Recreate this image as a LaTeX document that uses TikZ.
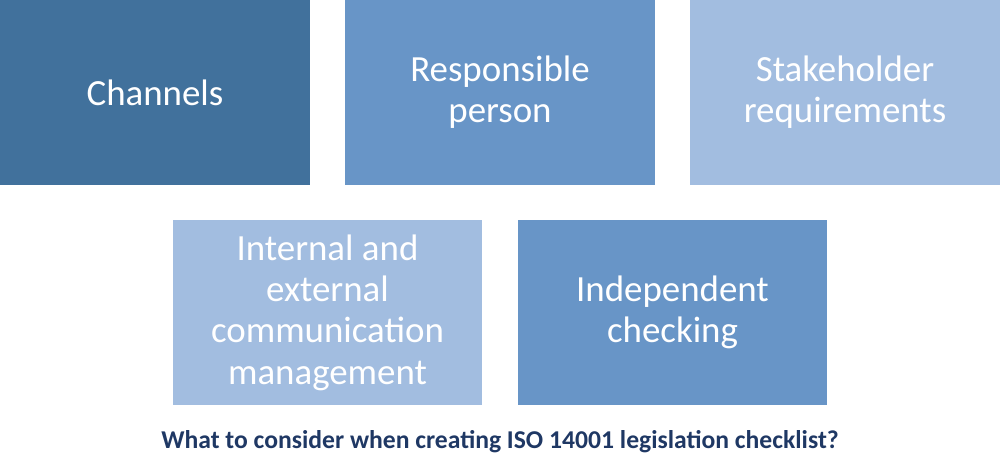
\documentclass[tikz,border=0pt]{standalone}
\usepackage{fontspec}
\setmainfont{Carlito}
\definecolor{boxdark}{RGB}{65,113,156}
\definecolor{boxmid}{RGB}{104,149,199}
\definecolor{boxlight}{RGB}{162,189,224}
\definecolor{capblue}{RGB}{31,56,100}
\begin{document}
\begin{tikzpicture}[x=0.02cm,y=-0.02cm,
	card/.style={rectangle,minimum width=6.2cm,minimum height=3.7cm,inner sep=0pt,align=center,text=white,font=\fontsize{21}{23.5}\selectfont}]
		\useasboundingbox(0,0)rectangle(1000,461);
		\node[card,fill=boxdark](channels)at(155,92.5){Channels};
		\node[card,fill=boxmid](person)at(500,92.5){Responsible\\person};
		\node[card,fill=boxlight](stake)at(845,92.5){Stakeholder\\requirements};
		\node[card,fill=boxlight](comm)at(327.5,312.5){Internal and\\external\\communication\\management};
		\node[card,fill=boxmid](check)at(672.5,312.5){Independent\\checking};
		\node[text=capblue,font=\bfseries\fontsize{14.6}{16}\selectfont](caption)at(500,442){What to consider when creating ISO 14001 legislation checklist?};
	\end{tikzpicture}
\end{document}
